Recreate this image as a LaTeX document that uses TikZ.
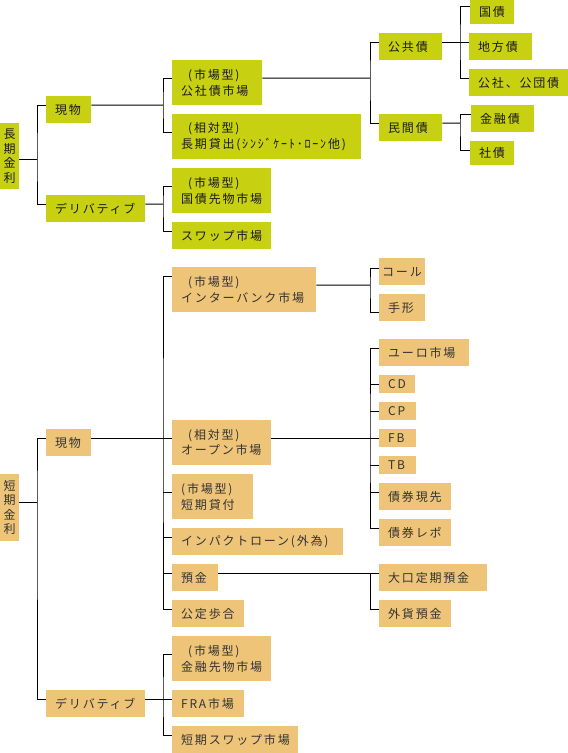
\documentclass[tikz,border=0pt]{standalone}
\usepackage{fontspec}
\newfontfamily\jp{Noto Sans CJK JP}[LetterSpace=15]
\definecolor{grn}{RGB}{200,208,18}
\definecolor{org}{RGB}{238,196,120}
\newcommand\typ[1]{\hspace*{7pt}(#1)}
\tikzset{
  box/.style={anchor=north west, inner xsep=9pt, inner ysep=0pt, align=left,
    font=\jp\fontsize{12}{15.5}\selectfont},
  gbox/.style={box, fill=grn, text=black!90},
  obox/.style={box, fill=org, text=black!80},
  vbox/.style={anchor=north west, inner sep=0pt, align=center, text width=19pt,
    font=\jp\fontsize{12}{14.5}\selectfont},
  link/.style={draw=black, line width=1pt},
}
\begin{document}
\begin{tikzpicture}[x=1pt,y=-1pt]
\useasboundingbox (0,0) rectangle (568,753);
% ---------- long-term ----------
\node[vbox, fill=grn, text=black!90, minimum height=66pt] (L1) at (0,123) {長\\期\\金\\利};
\node[gbox, minimum width=45pt, minimum height=27pt, text width=27pt] (A1) at (46,96) {現物};
\node[gbox, minimum width=99pt, minimum height=27pt, text width=81pt] (A2) at (46,195) {デリバティブ};
\node[gbox, minimum width=90pt, minimum height=45pt, text width=72pt] (B1) at (172,60) {\typ{市場型}\\公社債市場};
\node[gbox, minimum width=189pt, minimum height=45pt, text width=171pt] (B2) at (172,114) {\typ{相対型}\\長期貸出(ｼﾝｼﾞｹｰﾄ･ﾛｰﾝ他)};
\node[gbox, minimum width=99pt, minimum height=45pt, text width=81pt] (B3) at (172,168) {\typ{市場型}\\国債先物市場};
\node[gbox, minimum width=99pt, minimum height=27pt, text width=81pt] (B4) at (172,222) {スワップ市場};
\node[gbox, minimum width=63pt, minimum height=27pt, text width=45pt] (C1) at (379,33) {公共債};
\node[gbox, minimum width=63pt, minimum height=27pt, text width=45pt] (C2) at (379,114) {民間債};
\node[gbox, minimum width=44pt, minimum height=24pt, text width=26pt] (D1) at (470,0) {国債};
\node[gbox, minimum width=63pt, minimum height=27pt, text width=45pt] (D2) at (469,33) {地方債};
\node[gbox, minimum width=99pt, minimum height=27pt, text width=81pt] (D3) at (469,69) {公社、公団債};
\node[gbox, minimum width=63pt, minimum height=27pt, text width=45pt] (D4) at (471,105) {金融債};
\node[gbox, minimum width=44pt, minimum height=24pt, text width=26pt] (D5) at (470,141) {社債};
\coordinate (jL1) at (37,159);
\coordinate (jA1) at (163,105);
\coordinate (jA2) at (163,204);
\coordinate (jB1) at (370,78);
\coordinate (jC1) at (460,42);
\coordinate (jC2) at (460,123);
\draw[link] (L1.east |- jL1) -- (jL1);
\draw[link] ([yshift=4.5pt]A1.west) -| (jL1) |- ([yshift=4.5pt]A2.west);
\draw[link] ([yshift=4.5pt]A1.east) -- (jA1);
\draw[link] ([yshift=4.5pt]B1.west) -| (jA1) |- ([yshift=4.5pt]B2.west);
\draw[link] ([yshift=4.5pt]A2.east) -- (jA2);
\draw[link] ([yshift=4.5pt]B3.west) -| (jA2) |- ([yshift=4.5pt]B4.west);
\draw[link] ([yshift=4.5pt]B1.east) -- (jB1);
\draw[link] ([yshift=4.5pt]C1.west) -| (jB1) |- ([yshift=4.5pt]C2.west);
\draw[link] ([yshift=4.5pt]C1.east) -- ([yshift=4.5pt]D2.west);
\draw[link] ([yshift=6pt]D1.west) -| (jC1) |- ([yshift=4.5pt]D3.west);
\draw[link] ([yshift=4.5pt]C2.east) -- (jC2);
\draw[link] ([yshift=4.5pt]D4.west) -| (jC2) |- ([yshift=3pt]D5.west);
% ---------- short-term ----------
\node[vbox, fill=org, text=black!80, minimum height=67pt] (S) at (0,474) {短\\期\\金\\利};
\node[obox, minimum width=45pt, minimum height=27pt, text width=27pt] (E1) at (46,429) {現物};
\node[obox, minimum width=99pt, minimum height=27pt, text width=81pt] (E2) at (46,690) {デリバティブ};
\node[obox, minimum width=144pt, minimum height=45pt, text width=126pt] (G1) at (172,267) {\typ{市場型}\\インターバンク市場};
\node[obox, minimum width=99pt, minimum height=45pt, text width=81pt] (G2) at (172,420) {\typ{相対型}\\オープン市場};
\node[obox, minimum width=81pt, minimum height=45pt, text width=63pt] (G3) at (172,474) {(市場型)\\短期貸付};
\node[obox, minimum width=171pt, minimum height=27pt, text width=153pt] (G4) at (172,528) {インパクトローン(外為)};
\node[obox, minimum width=46pt, minimum height=27pt, text width=28pt] (G5) at (172,564) {預金};
\node[obox, minimum width=72pt, minimum height=27pt, text width=54pt] (G6) at (172,600) {公定歩合};
\node[obox, minimum width=99pt, minimum height=45pt, text width=81pt] (H1) at (172,636) {\typ{市場型}\\金融先物市場};
\node[obox, minimum width=72pt, minimum height=27pt, text width=54pt] (H2) at (172,690) {FRA市場};
\node[obox, minimum width=126pt, minimum height=27pt, text width=108pt] (H3) at (172,726) {短期スワップ市場};
\node[obox, inner xsep=3pt, minimum width=46pt, minimum height=27pt, text width=40pt] (K1) at (379,258) {コール};
\node[obox, minimum width=46pt, minimum height=27pt, text width=28pt] (K2) at (379,294) {手形};
\node[obox, minimum width=90pt, minimum height=27pt, text width=72pt] (M1) at (379,339) {ユーロ市場};
\node[obox, minimum width=36pt, minimum height=18pt, text width=18pt] (M2) at (379,375) {CD};
\node[obox, minimum width=37pt, minimum height=18pt, text width=19pt] (M3) at (379,402) {CP};
\node[obox, minimum width=37pt, minimum height=18pt, text width=19pt] (M4) at (379,429) {FB};
\node[obox, minimum width=37pt, minimum height=18pt, text width=19pt] (M5) at (379,456) {TB};
\node[obox, minimum width=72pt, minimum height=27pt, text width=54pt] (M6) at (379,483) {債券現先};
\node[obox, minimum width=72pt, minimum height=27pt, text width=54pt] (M7) at (379,519) {債券レポ};
\node[obox, minimum width=108pt, minimum height=27pt, text width=90pt] (N1) at (379,564) {大口定期預金};
\node[obox, minimum width=72pt, minimum height=27pt, text width=54pt] (N2) at (379,600) {外貨預金};
\coordinate (jS) at (37,502);
\coordinate (jE1) at (163,438);
\coordinate (jE2) at (163,699);
\coordinate (jF1) at (370,285);
\coordinate (jF2) at (370,438);
\coordinate (jF5) at (370,573);
\draw[link] (S.east |- jS) -- (jS);
\draw[link] ([yshift=4.5pt]E1.west) -| (jS) |- ([yshift=4.5pt]E2.west);
\draw[link] ([yshift=4.5pt]E1.east) -- ([yshift=4.5pt]G2.west);
\draw[link] ([yshift=13.5pt]G1.west) -| (jE1) |- ([yshift=4.5pt]G6.west);
\draw[link] ([yshift=4.5pt]G3.west) -- ++(-9,0);
\draw[link] ([yshift=4.5pt]G4.west) -- ++(-9,0);
\draw[link] ([yshift=4.5pt]G5.west) -- ++(-9,0);
\draw[link] ([yshift=4.5pt]E2.east) -- ([yshift=4.5pt]H2.west);
\draw[link] ([yshift=4.5pt]H1.west) -| (jE2) |- ([yshift=4.5pt]H3.west);
\draw[link] ([yshift=4.5pt]G1.east) -- (jF1);
\draw[link] ([yshift=3.5pt]K1.west) -| (jF1) |- ([yshift=-4.5pt]K2.west);
\draw[link] ([yshift=4.5pt]G2.east) -- (M4.west);
\draw[link] ([yshift=4.5pt]M1.west) -| (jF2) |- ([yshift=4.5pt]M7.west);
\draw[link] (M2.west) -- ++(-9,0);
\draw[link] (M3.west) -- ++(-9,0);
\draw[link] (M5.west) -- ++(-9,0);
\draw[link] ([yshift=4.5pt]M6.west) -- ++(-9,0);
\draw[link] ([yshift=4.5pt]G5.east) -- ([yshift=4.5pt]N1.west);
\draw[link] (jF5) |- ([yshift=4.5pt]N2.west);
\end{tikzpicture}
\end{document}
